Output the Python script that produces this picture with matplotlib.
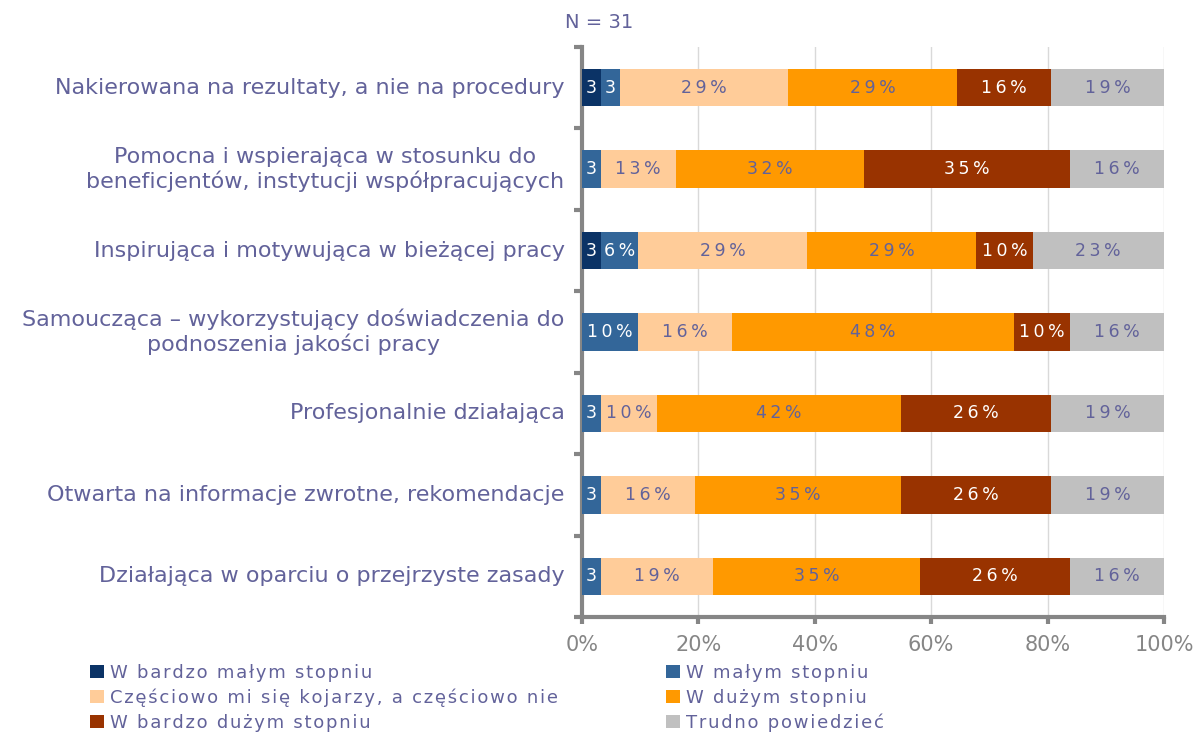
import matplotlib.pyplot as plt
import numpy as np

# survey answers, N = 31 respondents
categories = [
    "Nakierowana na rezultaty, a nie na procedury",
    "Pomocna i wspierająca w stosunku do\nbeneficjentów, instytucji współpracujących",
    "Inspirująca i motywująca w bieżącej pracy",
    "Samoucząca – wykorzystujący doświadczenia do\npodnoszenia jakości pracy",
    "Profesjonalnie działająca",
    "Otwarta na informacje zwrotne, rekomendacje",
    "Działająca w oparciu o przejrzyste zasady",
]
answers = [
    "W bardzo małym stopniu",
    "W małym stopniu",
    "Częściowo mi się kojarzy, a częściowo nie",
    "W dużym stopniu",
    "W bardzo dużym stopniu",
    "Trudno powiedzieć",
]
n_total = 31
very_small = [1, 0, 1, 0, 0, 0, 0]
small = [1, 1, 2, 3, 1, 1, 1]
partly = [9, 4, 9, 5, 3, 5, 6]
large = [9, 10, 9, 15, 13, 11, 11]
very_large = [5, 11, 3, 3, 8, 8, 8]
hard_to_say = [6, 5, 7, 5, 6, 6, 5]

colors = ["#0B3366", "#336699", "#FFCC99", "#FF9900", "#993300", "#C0C0C0"]
label_colors = ["white", "white", "#62629A", "#62629A", "white", "#62629A"]
text_col = "#62629A"
axis_col = "#868686"

series = [very_small, small, partly, large, very_large, hard_to_say]
shares = [np.array(s) / n_total * 100 for s in series]


def spaced(s, sep="\u200a"):
    # Excel-like letter spacing
    return sep.join(s)


fig = plt.figure(figsize=(11.96, 7.33), dpi=100)
ax = fig.add_axes([0.4866, 0.1583, 0.4866, 0.7776])

y = np.arange(len(categories))
left = np.zeros(len(categories))
handles = []
for k in range(len(series)):
    vals = shares[k]
    b = ax.barh(y, vals, left=left, height=0.46, color=colors[k],
                edgecolor="none", zorder=3, label=answers[k])
    handles.append(b)
    for i, v in enumerate(vals):
        if v <= 0:
            continue
        r = int(round(v))
        txt = str(r) if r < 5 else spaced(f"{r}%", "\u2009")
        ax.text(left[i] + v / 2, y[i], txt, ha="center", va="center",
                color=label_colors[k], fontsize=12.5, zorder=4)
    left = left + vals

ax.set_xlim(0, 100)
ax.set_ylim(len(categories) - 0.5, -0.5)
ax.set_xticks([0, 20, 40, 60, 80, 100])
ax.set_xticklabels(["0%", "20%", "40%", "60%", "80%", "100%"])
ax.tick_params(axis="x", colors=axis_col, labelsize=15, length=5, width=3, direction="out", pad=8)
ax.xaxis.grid(True, color="#D9D9D9", linewidth=1, zorder=0)

ax.set_yticks(np.arange(len(categories) + 1) - 0.5)
ax.set_yticklabels([])
ax.tick_params(axis="y", colors=axis_col, length=6, width=3, direction="out")
for i, c in enumerate(categories):
    ax.text(-3.0, y[i], c, ha="right", va="center", multialignment="center",
            color=text_col, fontsize=16, transform=ax.transData, clip_on=False)

for side in ["top", "right"]:
    ax.spines[side].set_visible(False)
for side in ["left", "bottom"]:
    ax.spines[side].set_color(axis_col)
    ax.spines[side].set_linewidth(3)

fig.text(565 / 1196, 1 - 22 / 733, "N = 31", color=text_col, fontsize=14,
         ha="left", va="center")

order = [0, 2, 4, 1, 3, 5]
leg = fig.legend([handles[i] for i in order], [spaced(answers[i]) for i in order],
                 ncol=2, loc="upper left", bbox_to_anchor=(90 / 1196, 1 - 664 / 733),
                 frameon=False, fontsize=13, handlelength=0.75, handleheight=0.75,
                 handletextpad=0.35, labelspacing=0.37, columnspacing=6.0,
                 borderaxespad=0, borderpad=0)
for t in leg.get_texts():
    t.set_color(text_col)

fig.savefig("out.png", dpi=100)
